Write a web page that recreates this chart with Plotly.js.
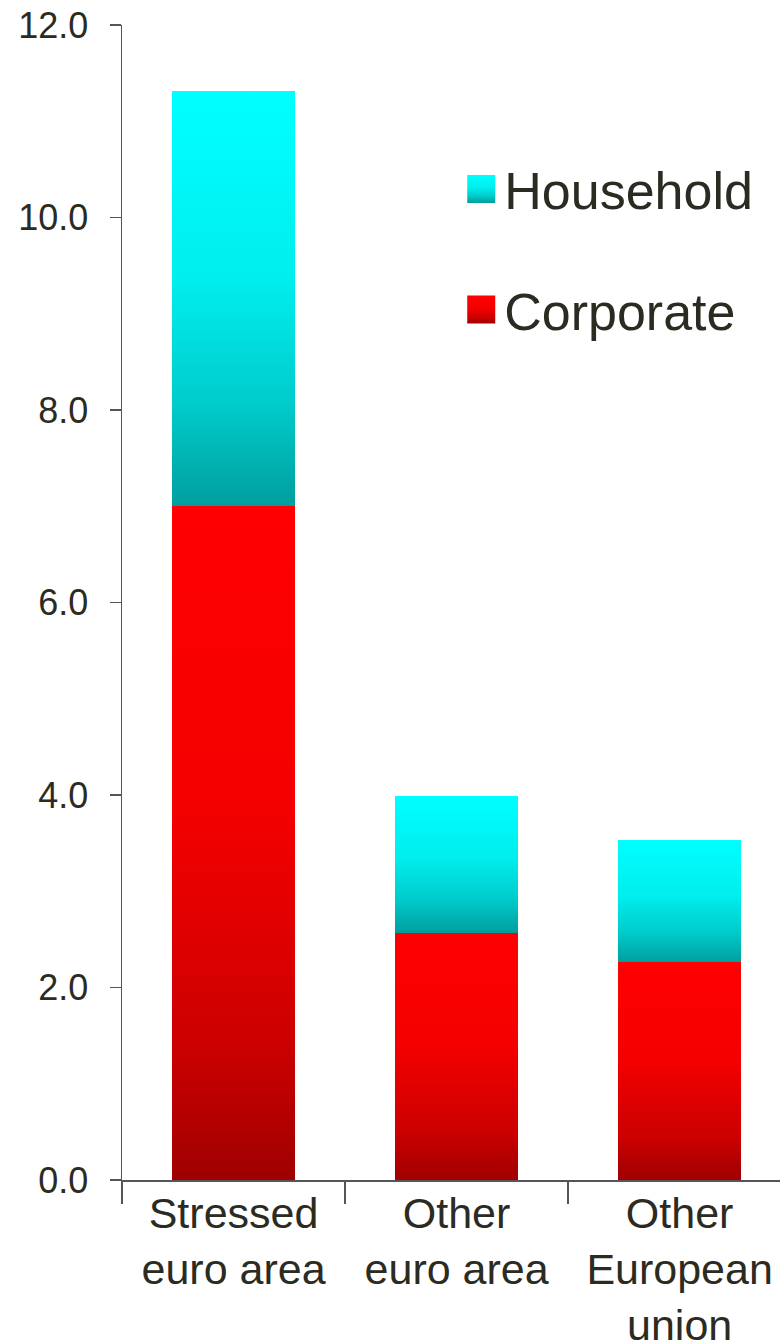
<!DOCTYPE html>
<html>
<head>
<meta charset="utf-8">
<script src="https://cdn.plot.ly/plotly-3.0.1.min.js"></script>
<style>
html,body{margin:0;padding:0;background:#fff;}
#chart{width:780px;height:1344px;}
</style>
</head>
<body>
<div id="chart"></div>
<script>
var categories = ['Stressed<br>euro area', 'Other<br>euro area', 'Other<br>European<br>union'];
var corporate = [7.00, 2.57, 2.26];
var household = [4.31, 1.42, 1.27];
var yTicks = [0, 2, 4, 6, 8, 10, 12];

var textColor = '#2b2b22';
var axisColor = '#555555';

var traces = [
  {
    type: 'bar', name: 'Corporate', x: categories, y: corporate,
    marker: {color: '#ee0000', line: {width: 0}},
    legendgroup: 'c', legendrank: 2, hoverinfo: 'none'
  },
  {
    type: 'bar', name: 'Household', x: categories, y: household,
    marker: {color: '#00e0e0', line: {width: 0}},
    legendgroup: 'h', legendrank: 1, hoverinfo: 'none'
  }
];

var layout = {
  width: 780, height: 1344,
  margin: {l: 122, r: 0, t: 25, b: 164},
  paper_bgcolor: '#ffffff', plot_bgcolor: '#ffffff',
  barmode: 'stack', bargap: 0.45,
  font: {family: 'Liberation Sans, Arial, sans-serif', color: textColor},
  showlegend: true,
  legend: {
    x: 0.511, y: 0.893, xanchor: 'left', yanchor: 'top',
    font: {size: 52, color: textColor},
    traceorder: 'grouped', tracegroupgap: 50, itemwidth: 36,
    bgcolor: 'rgba(0,0,0,0)'
  },
  xaxis: {
    type: 'category', range: [-0.5, 2.45],
    showline: true, linecolor: axisColor, linewidth: 1.5,
    ticks: 'outside', tickson: 'boundaries', ticklen: 22, tickwidth: 1.5, tickcolor: axisColor,
    tickfont: {size: 43, color: textColor}, ticklabelstandoff: -5,
    showgrid: false, zeroline: false, fixedrange: true
  },
  yaxis: {
    range: [0, 12], tickvals: yTicks, tickformat: '.1f',
    showline: true, linecolor: axisColor, linewidth: 1.5,
    ticks: 'outside', ticklen: 11, tickwidth: 1.5, tickcolor: axisColor,
    tickfont: {size: 36, color: textColor}, ticklabelstandoff: 14,
    showgrid: false, zeroline: false, fixedrange: true
  }
};

function addGradients(gd) {
  var svg = gd.querySelector('svg.main-svg');
  var ns = 'http://www.w3.org/2000/svg';
  var defs = svg.querySelector('defs') || svg.insertBefore(document.createElementNS(ns, 'defs'), svg.firstChild);
  function grad(id, stops) {
    var g = document.createElementNS(ns, 'linearGradient');
    g.setAttribute('id', id);
    g.setAttribute('x1', '0'); g.setAttribute('y1', '0');
    g.setAttribute('x2', '0'); g.setAttribute('y2', '1');
    stops.forEach(function (s) {
      var st = document.createElementNS(ns, 'stop');
      st.setAttribute('offset', s[0]);
      st.setAttribute('stop-color', s[1]);
      g.appendChild(st);
    });
    defs.appendChild(g);
  }
  grad('gradCorp', [[0, '#ff0000'], [0.45, '#f40000'], [0.8, '#cc0000'], [1, '#a00000']]);
  grad('gradHouse', [[0, '#00ffff'], [0.45, '#00eeee'], [0.75, '#00cccc'], [1, '#009e9e']]);
  var ids = ['gradCorp', 'gradHouse'];
  var traceGroups = gd.querySelectorAll('.barlayer .trace');
  traceGroups.forEach(function (tg, i) {
    tg.querySelectorAll('path').forEach(function (p) {
      p.style.fill = 'url(#' + ids[i] + ')';
      p.style.stroke = 'none';
    });
  });
  var legendTraces = gd.querySelectorAll('.legend .traces');
  legendTraces.forEach(function (lt) {
    var name = lt.querySelector('.legendtext').textContent;
    var id = name === 'Corporate' ? 'gradCorp' : 'gradHouse';
    lt.querySelectorAll('.legendpoints path').forEach(function (p) {
      p.setAttribute('d', 'M14,14H-14V-14H14Z');
      p.style.fill = 'url(#' + id + ')';
      p.style.stroke = 'none';
    });
  });
}

Plotly.newPlot('chart', traces, layout, {staticPlot: true, displayModeBar: false}).then(addGradients);
</script>
</body>
</html>
